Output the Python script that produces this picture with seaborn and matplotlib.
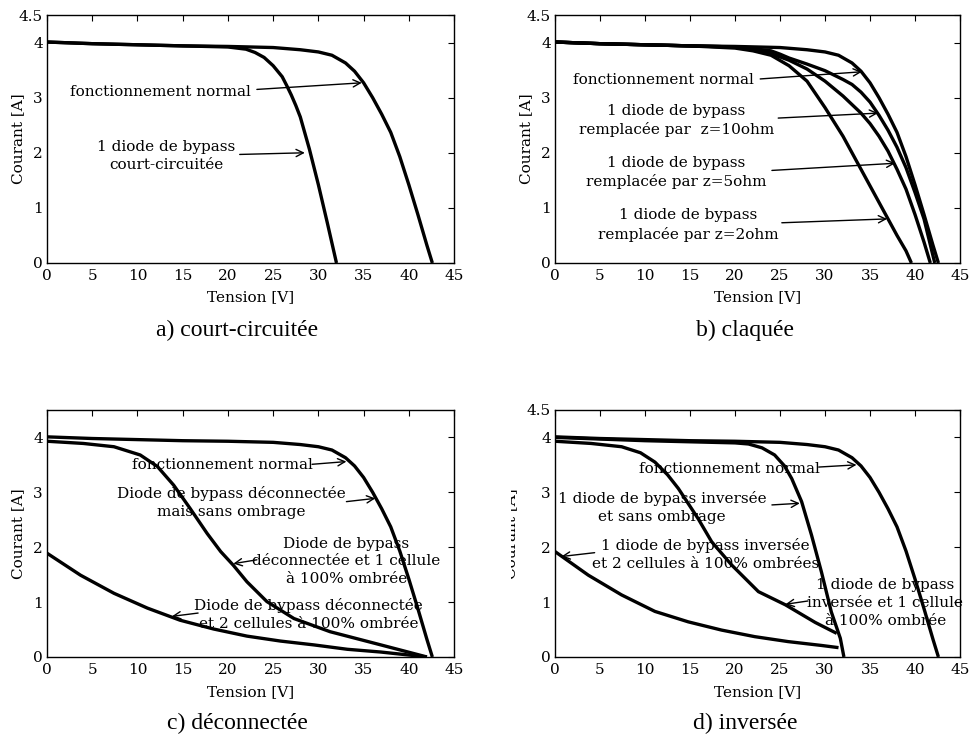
import numpy as np
import matplotlib
matplotlib.use("Agg")
import matplotlib.pyplot as plt
import seaborn as sns
from matplotlib.transforms import Bbox, TransformedBbox

# ===============================
# DATA
# ===============================

# normal operation, same curve in every panel
v_normal = [0, 5, 10, 15, 20, 25, 28, 30, 31.5, 33, 34, 35, 36, 37, 38, 39, 40, 41, 42, 42.6]
i_normal = [4.01, 3.98, 3.96, 3.94, 3.93, 3.91, 3.87, 3.83, 3.77, 3.63, 3.48, 3.27, 3.0, 2.7, 2.37, 1.93, 1.42, 0.88, 0.32, 0.0]

# a) bypass diode short-circuited
v_short = [0, 5, 10, 15, 20, 22, 23, 24, 25, 26, 26.5, 27, 27.5, 28, 29, 30, 31, 32]
i_short = [4.01, 3.98, 3.96, 3.94, 3.92, 3.88, 3.82, 3.73, 3.58, 3.38, 3.22, 3.05, 2.86, 2.65, 2.07, 1.42, 0.72, 0.0]

# b) bypass diode replaced by a resistance
v_z10 = [0, 5, 10, 15, 20, 22, 24, 25, 26, 28, 30, 32, 33, 34, 35, 36, 37, 38, 39, 40, 41, 42, 42.2]
i_z10 = [4.01, 3.98, 3.96, 3.94, 3.92, 3.89, 3.85, 3.79, 3.72, 3.61, 3.49, 3.33, 3.24, 3.1, 2.92, 2.68, 2.41, 2.1, 1.73, 1.28, 0.8, 0.13, 0.0]
v_z5 = [0, 5, 10, 15, 20, 22, 24, 26, 28, 30, 32, 34, 35, 36, 37, 38, 39, 40, 41, 41.7]
i_z5 = [4.01, 3.98, 3.96, 3.94, 3.92, 3.88, 3.8, 3.68, 3.52, 3.3, 3.03, 2.72, 2.53, 2.3, 2.03, 1.7, 1.34, 0.88, 0.38, 0.0]
v_z2 = [0, 5, 10, 15, 20, 22, 24, 26, 28, 30, 32, 34, 36, 38, 39, 39.6]
i_z2 = [4.01, 3.98, 3.96, 3.94, 3.9, 3.85, 3.77, 3.58, 3.3, 2.82, 2.3, 1.7, 1.1, 0.5, 0.22, 0.0]

# c) bypass diode disconnected
v_disc_1cell = [0, 4, 7.4, 10.3, 12.2, 14, 15.8, 17.7, 19.2, 20.6, 22.1, 24.3, 27.3, 31.3, 36.9, 42.0]
i_disc_1cell = [3.93, 3.89, 3.83, 3.68, 3.47, 3.13, 2.71, 2.25, 1.92, 1.67, 1.37, 1.01, 0.70, 0.46, 0.22, 0.0]
v_disc_2cell = [0, 3.7, 7.4, 11.1, 14.7, 18.4, 22.1, 25.8, 29.5, 33.2, 36.9, 42.0]
i_disc_2cell = [1.89, 1.49, 1.16, 0.89, 0.67, 0.51, 0.38, 0.29, 0.22, 0.14, 0.09, 0.0]

# d) bypass diode reversed
v_rev = [0, 5, 10, 15, 20, 21.5, 23, 24.4, 25.5, 26.3, 27.4, 28.5, 29.6, 30.7, 31.7, 32.1]
i_rev = [4.0, 3.97, 3.94, 3.92, 3.9, 3.88, 3.81, 3.68, 3.48, 3.25, 2.83, 2.22, 1.55, 0.82, 0.34, 0.0]
v_rev_1cell = [0, 4, 7.4, 9.5, 11.1, 12.5, 13.7, 15.9, 17.4, 19.6, 22.6, 25.6, 28.9, 31.3]
i_rev_1cell = [3.93, 3.89, 3.83, 3.72, 3.55, 3.32, 3.07, 2.52, 2.1, 1.68, 1.19, 0.95, 0.63, 0.43]
v_rev_2cell = [0, 3.7, 7.4, 11.1, 14.8, 18.5, 22.2, 25.9, 29.6, 31.5]
i_rev_2cell = [1.92, 1.49, 1.13, 0.83, 0.64, 0.49, 0.37, 0.28, 0.21, 0.17]

x_ticks = [0, 5, 10, 15, 20, 25, 30, 35, 40, 45]
y_ticks = [0, 1, 2, 3, 4, 4.5]
y_ticks_c = [0, 1, 2, 3, 4]

captions = ["a) court-circuitée", "b) claquée", "c) déconnectée", "d) inversée"]

labels_a = ["fonctionnement normal", "1 diode de bypass\ncourt-circuitée"]
labels_b = ["fonctionnement normal",
            "1 diode de bypass\nremplacée par  z=10ohm",
            "1 diode de bypass\nremplacée par z=5ohm",
            "1 diode de bypass\nremplacée par z=2ohm"]
labels_c = ["fonctionnement normal",
            "Diode de bypass déconnectée\nmais sans ombrage",
            "Diode de bypass\ndéconnectée et 1 cellule\nà 100% ombrée",
            "Diode de bypass déconnectée\net 2 cellules à 100% ombrée"]
labels_d = ["fonctionnement normal",
            "1 diode de bypass inversée\net sans ombrage",
            "1 diode de bypass inversée\net 2 cellules à 100% ombrées",
            "1 diode de bypass\ninversée et 1 cellule\nà 100% ombrée"]

# ===============================
# STYLE
# ===============================
sns.set_theme(style="white")
plt.rcParams["font.family"] = ["DejaVu Serif"]
plt.rcParams["xtick.direction"] = "in"
plt.rcParams["ytick.direction"] = "in"
plt.rcParams["text.color"] = "black"
plt.rcParams["axes.labelcolor"] = "black"

FS = 11


def curve(ax, v, i):
    sns.lineplot(x=v, y=i, ax=ax, color="black", linewidth=2.4,
                 sort=False, estimator=None,
                 solid_joinstyle="round", solid_capstyle="butt")


def note(ax, text, txt_xy, tail, head):
    ax.text(txt_xy[0], txt_xy[1], text, ha="center", va="center",
            multialignment="center", fontsize=FS, linespacing=1.35,
            clip_on=False, zorder=3)
    ax.annotate("", xy=head, xytext=tail,
                arrowprops=dict(arrowstyle="->", color="black", lw=1.0,
                                mutation_scale=13, shrinkA=0, shrinkB=0),
                annotation_clip=False)


def setup(ax, yt):
    ax.set_xlim(0, 45)
    ax.set_ylim(0, 4.5)
    ax.set_xticks(x_ticks)
    ax.set_yticks(yt)
    ax.set_yticklabels([("%g" % t) for t in yt])
    ax.tick_params(axis="both", which="both", top=True, right=True,
                   length=4, width=0.8, labelsize=FS, colors="black")
    ax.tick_params(axis="x", pad=4)
    ax.tick_params(axis="y", pad=3)
    for s in ax.spines.values():
        s.set_visible(True)
        s.set_color("black")
        s.set_linewidth(1.0)
    ax.set_xlabel("Tension [V]", fontsize=FS)
    ax.set_ylabel("Courant [A]", fontsize=FS)
    ax.xaxis.set_label_coords(0.5, -0.11)
    ax.yaxis.set_label_coords(-0.054, 0.5)


fig = plt.figure(figsize=(9.7, 7.4), dpi=100)
ax_a = fig.add_axes([0.0485, 0.6446, 0.4196, 0.3351])
ax_b = fig.add_axes([0.5722, 0.6446, 0.4175, 0.3351])
ax_c = fig.add_axes([0.0485, 0.1122, 0.4196, 0.3338])
ax_d = fig.add_axes([0.5722, 0.1122, 0.4175, 0.3338])

# a) court-circuitée
curve(ax_a, v_normal, i_normal)
curve(ax_a, v_short, i_short)
setup(ax_a, y_ticks)
note(ax_a, labels_a[0], (12.5, 3.1), (23.2, 3.15), (34.8, 3.27))
note(ax_a, labels_a[1], (13.2, 1.94), (21.3, 1.97), (28.5, 2.0))

# b) claquée
for v, i in [(v_normal, i_normal), (v_z10, i_z10), (v_z5, i_z5), (v_z2, i_z2)]:
    curve(ax_b, v, i)
setup(ax_b, y_ticks)
note(ax_b, labels_b[0], (12.0, 3.32), (22.8, 3.34), (34.1, 3.47))
note(ax_b, labels_b[1], (13.5, 2.59), (24.8, 2.63), (35.9, 2.72))
note(ax_b, labels_b[2], (13.5, 1.64), (24.1, 1.68), (37.8, 1.81))
note(ax_b, labels_b[3], (14.8, 0.69), (25.2, 0.73), (36.9, 0.80))

# c) déconnectée
for v, i in [(v_normal, i_normal), (v_disc_1cell, i_disc_1cell), (v_disc_2cell, i_disc_2cell)]:
    curve(ax_c, v, i)
setup(ax_c, y_ticks_c)
ax_c.xaxis.set_label_coords(0.5, -0.113)
note(ax_c, labels_c[0], (19.4, 3.5), (29.3, 3.51), (33.1, 3.56))
note(ax_c, labels_c[1], (20.4, 2.81), (33.1, 2.83), (36.3, 2.89))
note(ax_c, labels_c[2], (33.1, 1.74), (23.2, 1.77), (20.6, 1.70))
note(ax_c, labels_c[3], (28.9, 0.77), (16.7, 0.80), (13.8, 0.74))

# d) inversée
for v, i in [(v_normal, i_normal), (v_rev, i_rev), (v_rev_1cell, i_rev_1cell), (v_rev_2cell, i_rev_2cell)]:
    curve(ax_d, v, i)
setup(ax_d, y_ticks)
ax_d.xaxis.set_label_coords(0.5, -0.113)
ax_d.yaxis.set_label_coords(-0.091, 0.5)
note(ax_d, labels_d[0], (19.4, 3.42), (29.3, 3.46), (33.5, 3.5))
note(ax_d, labels_d[1], (11.9, 2.73), (24.1, 2.77), (27.2, 2.80))
note(ax_d, labels_d[2], (16.7, 1.86), (4.4, 1.90), (0.7, 1.83))
note(ax_d, labels_d[3], (36.7, 0.98), (28.1, 1.02), (25.6, 0.96))

# the y label of panel d is cut in the original
lab = ax_d.yaxis.label
lab.set_clip_on(True)
lab.set_clip_box(TransformedBbox(Bbox([[511 / 970, 0], [1, 1]]), fig.transFigure))

# captions under each panel
cap_font = dict(fontsize=17, family=["Liberation Serif"], ha="center", va="center")
fig.text(237 / 970, 0.553, captions[0], **cap_font)
fig.text(745 / 970, 0.553, captions[1], **cap_font)
fig.text(237 / 970, 0.0225, captions[2], **cap_font)
fig.text(745 / 970, 0.0225, captions[3], **cap_font)

fig.savefig("out.png", dpi=100, facecolor="white")
